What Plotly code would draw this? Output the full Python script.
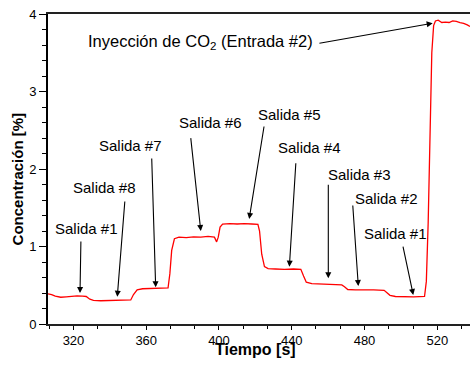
import plotly.graph_objects as go

# ---- data ----
time_s = [306.0, 308.0, 310.0, 313.0, 316.0, 319.0, 322.0, 325.0, 327.0, 329.0,
          331.0, 335.0, 340.0, 345.0, 350.0, 351.5, 353.0, 355.0, 358.0, 362.0,
          366.0, 370.0, 372.0, 373.0, 374.0, 375.5, 378.0, 382.0, 386.0, 390.0,
          394.0, 397.5, 398.7, 399.6, 400.6, 402.0, 406.0, 410.0, 414.0, 418.0,
          421.4, 422.3, 423.5, 425.0, 427.0, 431.0, 436.0, 441.0, 445.0, 446.5,
          448.0, 451.0, 456.0, 462.0, 467.5, 469.0, 470.8, 475.0, 480.0, 485.0,
          490.8, 492.3, 494.0, 497.0, 502.0, 507.0, 513.0, 514.0, 515.0, 516.0,
          517.0, 518.0, 519.0, 520.5, 522.5, 524.5, 526.5, 528.5, 530.5, 532.5,
          534.5, 536.5, 538.0]
conc_pct = [0.39, 0.38, 0.36, 0.345, 0.35, 0.36, 0.362, 0.36, 0.355, 0.32,
            0.305, 0.30, 0.302, 0.305, 0.305, 0.31, 0.38, 0.44, 0.455, 0.458,
            0.462, 0.46, 0.465, 0.65, 0.95, 1.10, 1.12, 1.115, 1.125, 1.12,
            1.13, 1.12, 1.06, 1.12, 1.25, 1.29, 1.295, 1.29, 1.295, 1.29,
            1.285, 1.2, 0.90, 0.74, 0.715, 0.71, 0.705, 0.71, 0.705, 0.62,
            0.54, 0.52, 0.515, 0.51, 0.505, 0.48, 0.445, 0.44, 0.442, 0.44,
            0.435, 0.41, 0.37, 0.355, 0.35, 0.35, 0.355, 0.55, 1.3, 2.6,
            3.5, 3.85, 3.91, 3.92, 3.89, 3.895, 3.89, 3.91, 3.905, 3.89,
            3.88, 3.86, 3.84]

labels = ["Salida #1", "Salida #8", "Salida #7", "Salida #6", "Salida #5",
          "Salida #4", "Salida #3", "Salida #2", "Salida #1",
          "Inyección de CO<sub>2</sub> (Entrada #2)"]

# layout: label centre, arrow tail, arrow tip (data coordinates)
label_pos = [(326.9, 1.226), (337.3, 1.755), (351.1, 2.297), (395.2, 2.597),
             (439.0, 2.697), (450.0, 2.28), (477.2, 1.923), (492.1, 1.613),
             (496.8, 1.17), (389.9, 3.635)]
arrow_tail = [(324.1, 1.084), (348.3, 1.60), (363.0, 2.155), (384.4, 2.417),
              (424.9, 2.568), (442.3, 2.094), (460.1, 1.815), (473.5, 1.548),
              (501.0, 1.019), (454.4, 3.62)]
arrow_tip = [(323.6, 0.40), (344.1, 0.352), (365.2, 0.474), (390.0, 1.20),
             (416.6, 1.355), (438.7, 0.74), (460.1, 0.59), (476.6, 0.49),
             (506.8, 0.374), (517.5, 3.88)]

FONT = "Liberation Sans, Arial, sans-serif"

fig = go.Figure()
fig.add_trace(go.Scatter(x=time_s, y=conc_pct, mode="lines",
                         line=dict(color="#ff0000", width=1.3),
                         showlegend=False, hoverinfo="skip"))

annotations = []
for i, lab in enumerate(labels):
    size = 16.5 if i == len(labels) - 1 else 15
    annotations.append(dict(x=label_pos[i][0], y=label_pos[i][1], xref="x", yref="y",
                            text=lab, showarrow=False,
                            font=dict(family=FONT, size=size, color="black"),
                            xanchor="center", yanchor="middle"))
    annotations.append(dict(x=arrow_tip[i][0], y=arrow_tip[i][1], xref="x", yref="y",
                            ax=arrow_tail[i][0], ay=arrow_tail[i][1],
                            axref="x", ayref="y", text="", showarrow=True,
                            arrowhead=2, arrowsize=1.1, arrowwidth=1.1,
                            arrowcolor="black", standoff=0, startstandoff=0))

annotations.append(dict(x=0.491, y=-0.083, xref="paper", yref="paper",
                        text="<b>Tiempo [s]</b>", showarrow=False,
                        font=dict(family=FONT, size=16, color="black"),
                        xanchor="center", yanchor="middle"))
annotations.append(dict(x=-0.0723, y=0.468, xref="paper", yref="paper",
                        text="<b>Concentración [%]</b>", showarrow=False, textangle=-90,
                        font=dict(family=FONT, size=15, color="black"),
                        xanchor="center", yanchor="middle"))

fig.update_layout(
    width=470, height=365,
    margin=dict(l=48, r=0, t=14, b=41),
    paper_bgcolor="white", plot_bgcolor="white",
    font=dict(family=FONT, color="black"),
    annotations=annotations,
    xaxis=dict(range=[306, 538], tick0=320, dtick=40, showgrid=False, zeroline=False,
               showline=True, linecolor="#222", linewidth=1.6, mirror=True,
               ticks="outside", ticklen=4, tickwidth=1.2, tickcolor="black",
               tickfont=dict(family=FONT, size=13, color="black"),
               minor=dict(ticks="outside", ticklen=3, tickwidth=1.2, tickcolor="black",
                          tick0=320, dtick=40 / 3)),
    yaxis=dict(range=[0, 4], tick0=0, dtick=1, showgrid=False, zeroline=False,
               showline=True, linecolor="black", linewidth=1.6,
               ticks="outside", ticklen=7, tickwidth=1.2, tickcolor="black",
               tickfont=dict(family=FONT, size=13, color="black"),
               minor=dict(ticks="outside", ticklen=4, tickwidth=1.2, tickcolor="black",
                          tick0=0, dtick=0.2)),
)

fig.write_html("out.html")
